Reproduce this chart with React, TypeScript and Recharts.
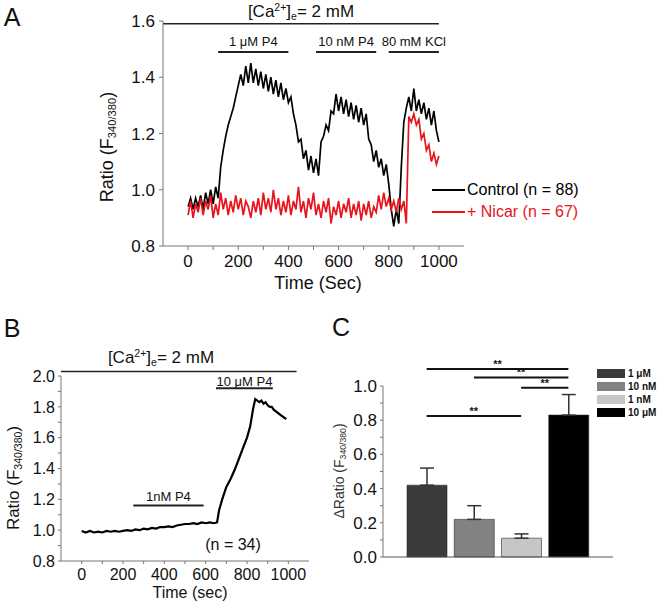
import React from 'react';
import {
  LineChart,
  Line,
  BarChart,
  Bar,
  Cell,
  ErrorBar,
  XAxis,
  YAxis,
  ReferenceLine,
} from 'recharts';

const FONT = 'Arial, "Liberation Sans", Helvetica, sans-serif';

// ---- Panel A: Ca2+ ratio traces (sampled every 10 s) ----
const timeA = [
  0, 10, 20, 30, 40, 50, 60, 70, 80, 90,
  100, 110, 120, 130, 140, 150, 160, 170, 180, 190,
  200, 210, 220, 230, 240, 250, 260, 270, 280, 290,
  300, 310, 320, 330, 340, 350, 360, 370, 380, 390,
  400, 410, 420, 430, 440, 450, 460, 470, 480, 490,
  500, 510, 520, 530, 540, 550, 560, 570, 580, 590,
  600, 610, 620, 630, 640, 650, 660, 670, 680, 690,
  700, 710, 720, 730, 740, 750, 760, 770, 780, 790,
  800, 810, 820, 830, 840, 850, 860, 870, 880, 890,
  900, 910, 920, 930, 940, 950, 960, 970, 980, 990,
  1000,
];
const controlA = [
  0.94, 0.97, 0.93, 0.97, 0.94, 0.98, 0.93, 0.99, 0.95, 1.0,
  0.95, 1.01, 0.97, 1.08, 1.14, 1.19, 1.23, 1.26, 1.29, 1.33,
  1.37, 1.41, 1.37, 1.44, 1.38, 1.45, 1.38, 1.43, 1.37, 1.42,
  1.36, 1.41, 1.35, 1.4, 1.34, 1.39, 1.33, 1.38, 1.32, 1.36,
  1.31, 1.33, 1.27, 1.23, 1.17, 1.18, 1.11, 1.14, 1.07, 1.12,
  1.06, 1.11, 1.05, 1.17, 1.19, 1.23, 1.21, 1.28, 1.27, 1.34,
  1.28, 1.33, 1.27, 1.32, 1.26, 1.31, 1.25, 1.3, 1.24, 1.29,
  1.23, 1.27, 1.18, 1.16, 1.1, 1.14, 1.08, 1.11, 1.05, 1.09,
  1.02, 0.93, 0.87, 0.93, 0.88, 1.08, 1.24, 1.29, 1.33, 1.28,
  1.36, 1.28, 1.32, 1.27, 1.31, 1.25, 1.29, 1.23, 1.28, 1.21,
  1.17,
];
const nicarA = [
  0.91, 0.96, 0.9, 0.95, 0.92, 0.97, 0.91, 0.96, 0.93, 0.98,
  0.9, 0.95, 0.91, 0.99, 0.93, 0.97, 0.91, 0.96, 0.92, 0.98,
  0.93, 0.97, 0.91, 0.96, 0.94, 0.9, 0.96, 0.92, 0.97, 0.91,
  0.99, 0.93, 0.97, 0.92, 1.0, 0.93, 0.97, 0.91, 0.96, 0.92,
  0.98, 0.91, 0.96, 0.93, 1.01, 0.92, 0.96, 0.9, 0.97, 0.93,
  0.99, 0.91, 0.95, 0.9, 0.96, 0.92, 0.97, 0.88, 0.94, 0.91,
  0.96, 0.9, 0.95, 0.92, 0.97, 0.9, 0.95, 0.91, 0.96, 0.89,
  0.95, 0.91, 0.96, 0.9, 0.94, 0.92, 0.98, 0.93, 0.99, 0.94,
  0.97, 0.93, 0.96, 0.92, 0.97, 0.93, 0.96, 0.88, 1.26, 1.24,
  1.27, 1.23, 1.25, 1.18, 1.2, 1.14, 1.16, 1.1, 1.13, 1.09,
  1.12,
];
const drugLabelsA = ['1 \u03bcM P4', '10 nM P4', '80 mM KCl'];
const drugStartA = [120, 510, 800];
const drugEndA = [400, 750, 1000];
const legendLabelsA = ['Control (n = 88)', '+ Nicar (n = 67)'];
const legendColorsA = ['#000000', '#e8141c'];

// ---- Panel B: single trace ----
const timeB = [
  0, 20, 40, 60, 80, 100, 120, 140, 160, 180,
  200, 220, 240, 260, 280, 300, 320, 340, 360, 380,
  400, 420, 440, 460, 480, 500, 520, 540, 560, 580,
  600, 620, 640, 655, 665, 680, 700, 720, 740, 760,
  780, 800, 815, 830, 840, 850, 860, 870, 880, 890,
  900, 910, 920, 930, 940, 950, 960, 970, 980, 990,
];
const ratioB = [
  0.995, 0.985, 0.995, 0.985, 0.99, 0.985, 0.995, 0.99, 0.995, 0.99,
  0.995, 1.0, 0.995, 1.005, 1.0, 1.01, 1.005, 1.015, 1.01, 1.02,
  1.02, 1.025, 1.02, 1.03, 1.035, 1.04, 1.04, 1.045, 1.04, 1.05,
  1.045, 1.05, 1.045, 1.05, 1.13, 1.2, 1.28, 1.33, 1.39, 1.46,
  1.53, 1.6, 1.67, 1.79, 1.85, 1.84, 1.83, 1.84, 1.82, 1.83,
  1.81, 1.8, 1.8, 1.78, 1.77, 1.76, 1.75, 1.74, 1.73, 1.72,
];
const drugLabelsB = ['1nM P4', '10 \u03bcM P4'];
const drugStartB = [250, 650];
const drugEndB = [590, 925];
const drugLevelB = [1.16, 1.92];

// ---- Panel C: bar summary ----
const groupsC = ['1 \u03bcM', '10 nM', '1 nM', '10 \u03bcM'];
const deltaC = [0.42, 0.22, 0.11, 0.83];
const semC = [0.1, 0.08, 0.025, 0.12];
const colorsC = ['#3a3a3a', '#828282', '#c6c6c6', '#000000'];
const sigFromC = ['1 \u03bcM', '10 nM', '1 nM', '1 \u03bcM'];
const sigToC = ['10 \u03bcM', '10 \u03bcM', '10 \u03bcM', '1 nM'];
const sigLevelC = [1.1, 1.05, 0.99, 0.825];

const xTicks = [0, 100, 200, 300, 400, 500, 600, 700, 800, 900, 1000];
const yTicksA = [0.8, 1.0, 1.2, 1.4, 1.6];
const yTicksB = [0.8, 0.9, 1.0, 1.1, 1.2, 1.3, 1.4, 1.5, 1.6, 1.7, 1.8, 1.9, 2.0];
const yTicksC = [0, 0.1, 0.2, 0.3, 0.4, 0.5, 0.6, 0.7, 0.8, 0.9, 1.0];

const dataA = timeA.map((t, i) => ({ t, control: controlA[i], nicar: nicarA[i] }));
const dataB = timeB.map((t, i) => ({ t, ratio: ratioB[i] }));
const dataC = groupsC.map((name, i) => ({ name, value: deltaC[i], err: [0, semC[i]] }));

const fmtX = (v: number) => (v % 200 === 0 ? String(v) : '');
const fmtY = (v: number) => (Math.round(v * 10) % 2 === 0 ? v.toFixed(1) : '');

const axisColor = '#777';

function Txt({ x, y, size, children, rotate = 0, color = '#111', weight = 400 }: any) {
  return (
    <div
      style={{
        position: 'absolute',
        left: x,
        top: y,
        fontSize: size,
        color,
        fontWeight: weight,
        lineHeight: 1,
        whiteSpace: 'nowrap',
        transform: `translate(-50%, -50%) rotate(${rotate}deg)`,
      }}
    >
      {children}
    </div>
  );
}

const sup = { fontSize: '0.62em', verticalAlign: '0.55em' };
const sub = { fontSize: '0.62em', verticalAlign: '-0.3em' };

export default function App() {
  return (
    <div
      style={{
        position: 'absolute',
        left: 0,
        top: 0,
        width: 661,
        height: 604,
        background: '#fff',
        fontFamily: FONT,
        color: '#111',
      }}
    >
      {/* Panel A */}
      <div style={{ position: 'absolute', left: 0, top: 0 }}>
        <LineChart width={661} height={300} data={dataA} margin={{ top: 21, right: 197, bottom: 24, left: 100 }}>
          <XAxis
            dataKey="t"
            type="number"
            domain={[-100, 1100]}
            ticks={xTicks}
            interval={0}
            tickFormatter={fmtX}
            height={30}
            stroke={axisColor}
            tick={{ fill: '#111', fontSize: 17 }}
            tickSize={4}
            tickMargin={5}
          />
          <YAxis
            type="number"
            domain={[0.8, 1.6]}
            ticks={yTicksA}
            interval={0}
            tickFormatter={(v: number) => v.toFixed(1)}
            width={63}
            stroke={axisColor}
            tick={{ fill: '#111', fontSize: 17 }}
            tickSize={4}
            tickMargin={4}
          />
          <ReferenceLine
            segment={[{ x: -100, y: 1.59 }, { x: 1000, y: 1.59 }]}
            stroke="#222"
            strokeWidth={1.5}
            ifOverflow="visible"
          />
          {drugLabelsA.map((label, i) => (
            <ReferenceLine
              key={label}
              segment={[{ x: drugStartA[i], y: 1.49 }, { x: drugEndA[i], y: 1.49 }]}
              stroke="#222"
              strokeWidth={2}
              ifOverflow="visible"
              label={{ value: label, position: 'top', offset: 6, fontSize: 13, fill: '#111' }}
            />
          ))}
          <Line type="linear" dataKey="control" stroke="#000" strokeWidth={1.7} dot={false} isAnimationActive={false} />
          <Line type="linear" dataKey="nicar" stroke="#e8141c" strokeWidth={1.7} dot={false} isAnimationActive={false} />
        </LineChart>
      </div>
      <Txt x={12} y={17} size={25}>A</Txt>
      <Txt x={301} y={12} size={17}>
        [Ca<span style={sup}>2+</span>]<span style={sub}>e</span>= 2 mM
      </Txt>
      <Txt x={318} y={283} size={18}>Time (Sec)</Txt>
      <Txt x={108} y={147} size={18} rotate={-90}>
        Ratio (F<span style={sub}>340/380</span>)
      </Txt>
      {legendLabelsA.map((label, i) => (
        <div
          key={label}
          style={{
            position: 'absolute',
            left: 432,
            top: 190 + i * 22 - 9,
            height: 18,
            display: 'flex',
            alignItems: 'center',
            fontSize: 16,
            color: legendColorsA[i],
            whiteSpace: 'nowrap',
          }}
        >
          <span style={{ display: 'inline-block', width: 33, height: 2, background: legendColorsA[i], marginRight: 2 }} />
          {label}
        </div>
      ))}

      {/* Panel B */}
      <div style={{ position: 'absolute', left: 0, top: 300 }}>
        <LineChart width={330} height={304} data={dataB} margin={{ top: 76, right: 21, bottom: 13, left: 21 }}>
          <XAxis
            dataKey="t"
            type="number"
            domain={[-100, 1100]}
            ticks={xTicks}
            interval={0}
            tickFormatter={fmtX}
            height={30}
            stroke={axisColor}
            tick={{ fill: '#111', fontSize: 16 }}
            tickSize={3}
            tickMargin={5}
          />
          <YAxis
            type="number"
            domain={[0.8, 2.0]}
            ticks={yTicksB}
            interval={0}
            tickFormatter={fmtY}
            width={40}
            stroke={axisColor}
            tick={{ fill: '#111', fontSize: 16 }}
            tickSize={3}
            tickMargin={3}
          />
          <ReferenceLine
            segment={[{ x: -100, y: 2.03 }, { x: 1040, y: 2.03 }]}
            stroke="#222"
            strokeWidth={1.5}
            ifOverflow="visible"
          />
          {drugLabelsB.map((label, i) => (
            <ReferenceLine
              key={label}
              segment={[{ x: drugStartB[i], y: drugLevelB[i] }, { x: drugEndB[i], y: drugLevelB[i] }]}
              stroke="#222"
              strokeWidth={2}
              ifOverflow="visible"
              label={{ value: label, position: 'top', offset: i === 1 ? 2 : 5, fontSize: 13, fill: '#111' }}
            />
          ))}
          <Line type="linear" dataKey="ratio" stroke="#000" strokeWidth={2.2} dot={false} isAnimationActive={false} />
        </LineChart>
      </div>
      <Txt x={12} y={328} size={25}>B</Txt>
      <Txt x={161} y={358} size={17}>
        [Ca<span style={sup}>2+</span>]<span style={sub}>e</span>= 2 mM
      </Txt>
      <Txt x={190} y={593} size={16}>Time (sec)</Txt>
      <Txt x={14} y={478} size={17} rotate={-90}>
        Ratio (F<span style={sub}>340/380</span>)
      </Txt>
      <Txt x={233} y={545} size={16}>(n = 34)</Txt>

      {/* Panel C */}
      <div style={{ position: 'absolute', left: 330, top: 300 }}>
        <BarChart width={331} height={304} data={dataC} margin={{ top: 86, right: 48, bottom: 37, left: 13 }}>
          <XAxis
            dataKey="name"
            tick={false}
            tickLine={false}
            height={10}
            padding={{ left: 20, right: 21 }}
            stroke="#555"
          />
          <YAxis
            type="number"
            domain={[0, 1]}
            ticks={yTicksC}
            interval={0}
            tickFormatter={fmtY}
            width={40}
            stroke={axisColor}
            tick={{ fill: '#111', fontSize: 17 }}
            tickSize={3}
            tickMargin={3}
          />
          <Bar dataKey="value" barSize={40} isAnimationActive={false} stroke="#2a2a2a" strokeWidth={0.6}>
            {colorsC.map((c, i) => (
              <Cell key={i} fill={c} />
            ))}
            <ErrorBar dataKey="err" width={7} stroke="#333" strokeWidth={1.5} direction="y" />
          </Bar>
          {sigLevelC.map((lvl, i) => (
            <ReferenceLine
              key={i}
              segment={[{ x: sigFromC[i], y: lvl }, { x: sigToC[i], y: lvl }]}
              stroke="#111"
              strokeWidth={2}
              ifOverflow="visible"
              label={{ value: '**', position: 'top', offset: 1, fontSize: 11, fontWeight: 700, fill: '#111' }}
            />
          ))}
        </BarChart>
      </div>
      <Txt x={341} y={327} size={25}>C</Txt>
      <Txt x={340} y={471} size={14} rotate={-90} color="#333">
        {'\u0394'}Ratio (F<span style={sub}>340/380</span>)
      </Txt>
      {groupsC.map((g, i) => (
        <div
          key={g}
          style={{
            position: 'absolute',
            left: 597,
            top: 373 + i * 13 - 6,
            height: 12,
            display: 'flex',
            alignItems: 'center',
            fontSize: 10,
            fontWeight: 700,
            whiteSpace: 'nowrap',
          }}
        >
          <span style={{ display: 'inline-block', width: 28, height: 9, background: colorsC[i], marginRight: 3 }} />
          {g}
        </div>
      ))}
    </div>
  );
}
